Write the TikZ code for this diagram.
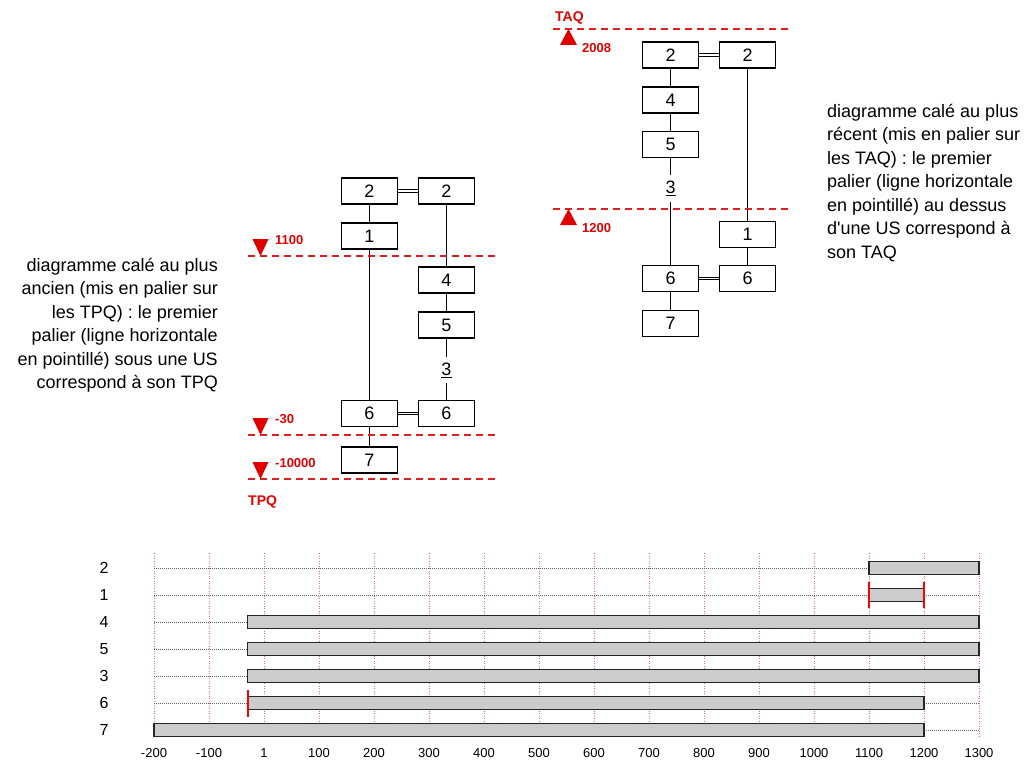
\documentclass[tikz,border=0pt]{standalone}
\usepackage{fontspec}
\setmainfont{Liberation Sans}[Ligatures=TeXOff]
\definecolor{rdash}{RGB}{225,30,30}
\definecolor{rlab}{RGB}{225,0,0}
\definecolor{gridred}{RGB}{240,110,110}
\definecolor{barfill}{RGB}{204,204,204}
\definecolor{dotgray}{RGB}{100,100,100}
\begin{document}
\begin{tikzpicture}[x=1pt,y=-1pt,
  usbox/.style={draw, line width=1.2pt, minimum width=56pt, minimum height=26pt, inner sep=0pt, font=\fontsize{18}{18}\selectfont},
  usfree/.style={minimum width=20pt, minimum height=26pt, inner sep=0pt, font=\fontsize{18}{18}\selectfont},
  link/.style={line width=1.2pt},
  dbl/.style={double, double distance=1.6pt, line width=0.8pt},
  palier/.style={rdash, line width=1.2pt, dash pattern=on 7pt off 5pt},
  redlab/.style={rlab, font=\fontsize{13}{13}\selectfont\bfseries, inner sep=0pt},
  redtitle/.style={rlab, font=\fontsize{14}{14}\selectfont\bfseries, inner sep=0pt},
  note/.style={font=\fontsize{18}{23.5}\selectfont, inner sep=0pt},
  gridline/.style={gridred, line width=0.8pt, dash pattern=on 1pt off 1.5pt},
  dotline/.style={dotgray, line width=0.8pt, dash pattern=on 1pt off 1pt},
  bar/.style={fill=barfill, draw=black!85, line width=1.3pt},
  redmark/.style={red, line width=2pt},
  rowlab/.style={font=\fontsize{16}{16}\selectfont, inner sep=0pt},
  ticklab/.style={font=\fontsize{13}{13}\selectfont, inner sep=0pt}
]
\useasboundingbox (0,0) rectangle (1031,760);

% ---------------- left diagram (TPQ) ----------------
\node[usbox] (L2a) at (369.5,191) {2};
\node[usbox] (L2b) at (446.5,191) {2};
\node[usbox] (L1) at (369.5,236) {1};
\node[usbox] (L4) at (446.5,280) {4};
\node[usbox] (L5) at (446.5,325) {5};
\node[usfree] (L3) at (446.5,370) {\underline{3}};
\node[usbox] (L6a) at (369.5,413.5) {6};
\node[usbox] (L6b) at (446.5,413.5) {6};
\node[usbox] (L7) at (369.5,460) {7};
\draw[link] (L2a) -- (L1);
\draw[link] (L1) -- (L6a);
\draw[link] (L6a) -- (L7);
\draw[link] (L2b) -- (L4);
\draw[link] (L4) -- (L5);
\draw[link] (L5) -- (L3);
\draw[link] (L3) -- (L6b);
\draw[dbl] (L2a) -- (L2b);
\draw[dbl] (L6a) -- (L6b);

\draw[palier] (248,256) -- (498,256);
\draw[palier] (248,435) -- (498,435);
\draw[palier] (248,479) -- (498,479);
\fill[rlab] (252.5,239) -- (268.5,239) -- (260.5,256) -- cycle;
\fill[rlab] (252.5,418) -- (268.5,418) -- (260.5,435) -- cycle;
\fill[rlab] (252.5,462) -- (268.5,462) -- (260.5,479) -- cycle;
\node[redlab, anchor=west] (t1100) at (275,240) {1100};
\node[redlab, anchor=west] (tm30) at (275,419) {-30};
\node[redlab, anchor=west] (tm10000) at (275,463) {-10000};
\node[redtitle, anchor=west] (tpq) at (248,502) {TPQ};

\node[note, anchor=base east, align=right] (lnote) at (218,388.5)
 {diagramme calé au plus\\ ancien (mis en palier sur\\ les TPQ) : le premier\\ palier (ligne horizontale\\ en pointillé) sous une US\\ correspond à son TPQ};

% ---------------- right diagram (TAQ) ----------------
\node[usbox] (R2a) at (670.5,55) {2};
\node[usbox] (R2b) at (747.5,55) {2};
\node[usbox] (R4) at (670.5,100) {4};
\node[usbox] (R5) at (670.5,144.5) {5};
\node[usfree] (R3) at (670.5,188.5) {\underline{3}};
\node[usbox] (R1) at (747.5,234.5) {1};
\node[usbox] (R6a) at (670.5,278.5) {6};
\node[usbox] (R6b) at (747.5,278.5) {6};
\node[usbox] (R7) at (670.5,323.5) {7};
\draw[link] (R2a) -- (R4);
\draw[link] (R4) -- (R5);
\draw[link] (R5) -- (R3);
\draw[link] (R3) -- (R6a);
\draw[link] (R6a) -- (R7);
\draw[link] (R2b) -- (R1);
\draw[link] (R1) -- (R6b);
\draw[dbl] (R2a) -- (R2b);
\draw[dbl] (R6a) -- (R6b);

\draw[palier] (553,29) -- (793,29);
\draw[palier] (553,209) -- (793,209);
\fill[rlab] (560,45) -- (577,45) -- (568.5,29) -- cycle;
\fill[rlab] (560,225) -- (577,225) -- (568.5,209) -- cycle;
\node[redlab, anchor=west] (t2008) at (582,48) {2008};
\node[redlab, anchor=west] (t1200) at (582,228) {1200};
\node[redtitle, anchor=west] (taq) at (555,18) {TAQ};

\node[note, anchor=base west, align=left] (rnote) at (827,258)
 {diagramme calé au plus\\ récent (mis en palier sur\\ les TAQ) : le premier\\ palier (ligne horizontale\\ en pointillé) au dessus\\ d'une US correspond à\\ son TAQ};

% ---------------- chart ----------------
\foreach \xx/\lab in {154/-200,209/-100,264/1,319/100,374/200,429/300,484/400,539/500,594/600,649/700,704/800,759/900,814/1000,869/1100,924/1200,979/1300} {
  \draw[gridline] (\xx,553) -- (\xx,738);
  \node[ticklab] at (\xx,753) {\lab};
}
% row labels
\node[rowlab] (r2) at (104,568) {2};
\node[rowlab] (r1) at (104,595) {1};
\node[rowlab] (r4) at (104,622) {4};
\node[rowlab] (r5) at (104,649) {5};
\node[rowlab] (r3) at (104,676) {3};
\node[rowlab] (r6) at (104,703) {6};
\node[rowlab] (r7) at (104,730) {7};

% row 2
\draw[dotline] (154,568) -- (869,568);
\draw[bar] (869,561.75) rectangle (979,574.25);
% row 1
\draw[dotline] (154,595) -- (869,595);
\draw[dotline] (924,595) -- (979,595);
\draw[bar] (869,588.75) rectangle (924,601.25);
\draw[redmark] (869,582) -- (869,608);
\draw[redmark] (924,582) -- (924,608);
% rows 4,5,3
\foreach \yy in {622,649,676} {
  \draw[dotline] (154,\yy) -- (247.5,\yy);
  \draw[bar] (247.5,\yy-6.25) rectangle (979,\yy+6.25);
}
% row 6
\draw[dotline] (154,703) -- (247.5,703);
\draw[dotline] (924,703) -- (979,703);
\draw[bar] (247.5,696.75) rectangle (924,709.25);
\draw[redmark] (247.5,690) -- (247.5,717);
% row 7
\draw[dotline] (924,730) -- (979,730);
\draw[bar] (154,723.75) rectangle (924,736.25);
\end{tikzpicture}
\end{document}
